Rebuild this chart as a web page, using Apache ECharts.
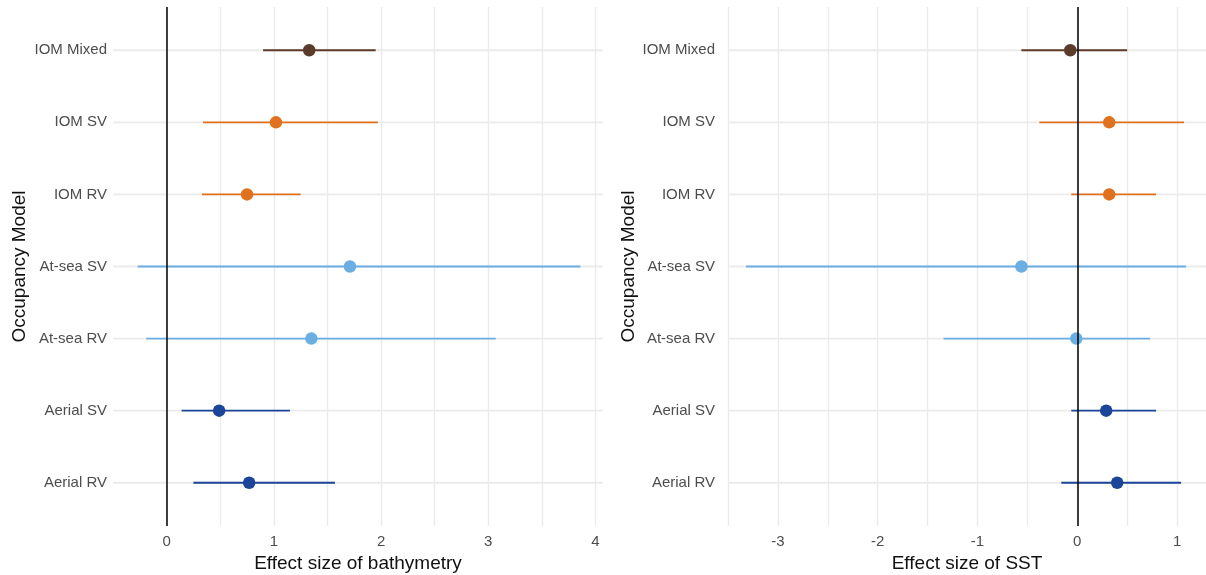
<!DOCTYPE html>
<html>
<head>
<meta charset="utf-8">
<script src="https://cdn.jsdelivr.net/npm/echarts@6/dist/echarts.min.js"></script>
<style>
html,body{margin:0;padding:0;background:#fff;}
#chart{width:1206px;height:575px;}
</style>
</head>
<body>
<div id="chart"></div>
<script>
// Categories (top to bottom)
const categories = ['IOM Mixed', 'IOM SV', 'IOM RV', 'At-sea SV', 'At-sea RV', 'Aerial SV', 'Aerial RV'];
const pointColors = ['#5B3B2A', '#E0721F', '#E0721F', '#6AAEE2', '#6AAEE2', '#1B4599', '#1B4599'];

// Bathymetry effect sizes
const bathyEst = [1.33, 1.02, 0.75, 1.71, 1.35, 0.49, 0.77];
const bathyLo  = [0.90, 0.34, 0.33, -0.27, -0.19, 0.14, 0.25];
const bathyHi  = [1.95, 1.97, 1.25, 3.86, 3.07, 1.15, 1.57];

// SST effect sizes
const sstEst = [-0.07, 0.32, 0.32, -0.56, -0.01, 0.29, 0.40];
const sstLo  = [-0.56, -0.38, -0.06, -3.32, -1.34, -0.06, -0.16];
const sstHi  = [0.50, 1.07, 0.79, 1.09, 0.73, 0.79, 1.04];

// Axis tick labels
const bathyTicks = [0, 1, 2, 3, 4];
const sstTicks = [-3, -2, -1, 0, 1];

const FONT = '"Liberation Sans", Arial, sans-serif';
const GRID_COLOR = '#EBEBEB';

function isInt(v) { return Math.abs(v - Math.round(v)) < 1e-6; }

function makeRows(est, lo, hi) {
  return categories.map((c, i) => ({ y: i + 1, est: est[i], lo: lo[i], hi: hi[i], color: pointColors[i] }));
}

function xAxisDef(idx, min, max, ticks, name, showMinLine) {
  return {
    type: 'value', gridIndex: idx, min: min, max: max, interval: 0.5,
    name: name, nameLocation: 'middle', nameGap: 28,
    nameTextStyle: { fontFamily: FONT, fontSize: 19, color: '#111' },
    axisLine: { show: false }, axisTick: { show: false },
    axisLabel: {
      fontFamily: FONT, fontSize: 15, color: '#4D4D4D', margin: 8,
      showMinLabel: true, showMaxLabel: true,
      formatter: v => {
        const r = Math.round(v);
        return (isInt(v) && ticks.indexOf(r) >= 0) ? String(r) : '';
      }
    },
    splitLine: { show: true, showMinLine: showMinLine, showMaxLine: false, lineStyle: { color: GRID_COLOR, width: 1.4 } }
  };
}

function yAxisDef(idx, nameGap, labelMargin) {
  return {
    type: 'value', gridIndex: idx, inverse: true, min: 0.4, max: 7.6, interval: 0.2,
    name: 'Occupancy Model', nameLocation: 'middle', nameGap: nameGap, nameRotate: 90,
    nameTextStyle: { fontFamily: FONT, fontSize: 19, color: '#111' },
    axisLine: { show: false }, axisTick: { show: false }, splitLine: { show: false },
    axisLabel: {
      fontFamily: FONT, fontSize: 15, color: '#4D4D4D', margin: labelMargin,
      formatter: v => {
        if (!isInt(v)) return '';
        const i = Math.round(v) - 1;
        return categories[i] || '';
      }
    }
  };
}

function seriesFor(idx, rows) {
  return [
    { // horizontal grid lines at categories
      type: 'custom', xAxisIndex: idx, yAxisIndex: idx, z: 1, silent: true,
      data: rows.map(r => [0, r.y]),
      renderItem: (params, api) => {
        const cs = params.coordSys;
        const p = api.coord([0, api.value(1)]);
        return { type: 'line', shape: { x1: cs.x, y1: p[1], x2: cs.x + cs.width, y2: p[1] },
                 style: { stroke: GRID_COLOR, lineWidth: 1.8 } };
      }
    },
    { // error bars
      type: 'custom', xAxisIndex: idx, yAxisIndex: idx, z: 3,
      data: rows.map(r => [r.lo, r.hi, r.y]),
      renderItem: (params, api) => {
        const a = api.coord([api.value(0), api.value(2)]);
        const b = api.coord([api.value(1), api.value(2)]);
        return { type: 'line', shape: { x1: a[0], y1: a[1], x2: b[0], y2: b[1] },
                 style: { stroke: rows[params.dataIndex].color, lineWidth: 1.9 } };
      }
    },
    { // point estimates
      type: 'scatter', xAxisIndex: idx, yAxisIndex: idx, z: 4, symbolSize: 12.5,
      data: rows.map(r => ({ value: [r.est, r.y], itemStyle: { color: r.color, opacity: 1 } }))
    },
    { // zero reference line
      type: 'line', xAxisIndex: idx, yAxisIndex: idx, z: 5, data: [],
      markLine: { silent: true, symbol: 'none', label: { show: false },
        lineStyle: { color: '#000', width: 1.5, type: 'solid' },
        data: [{ xAxis: 0 }] }
    }
  ];
}

const chart = echarts.init(document.getElementById('chart'), null, { renderer: 'canvas' });
chart.setOption({
  animation: false,
  backgroundColor: '#fff',
  grid: [
    { left: 113, right: 603, top: 7, bottom: 49, containLabel: false, outerBoundsMode: 'none' },
    { left: 728, right: 0, top: 7, bottom: 49, containLabel: false, outerBoundsMode: 'none' }
  ],
  xAxis: [
    xAxisDef(0, -0.5, 4.07, bathyTicks, 'Effect size of bathymetry', false),
    xAxisDef(1, -3.5, 1.29, sstTicks, 'Effect size of SST', true)
  ],
  yAxis: [ yAxisDef(0, 84, 6), yAxisDef(1, 85, 13) ],
  series: [].concat(seriesFor(0, makeRows(bathyEst, bathyLo, bathyHi)),
                    seriesFor(1, makeRows(sstEst, sstLo, sstHi)))
});
</script>
</body>
</html>
